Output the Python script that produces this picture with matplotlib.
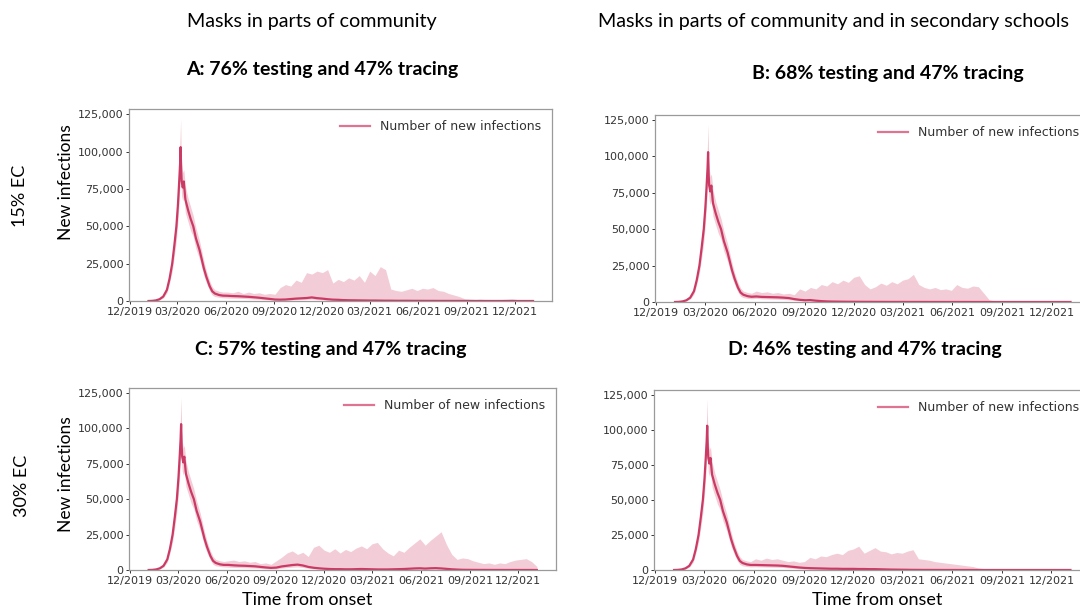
import numpy as np
import matplotlib
matplotlib.use("Agg")
import matplotlib.pyplot as plt
import matplotlib.dates as mdates
from matplotlib.lines import Line2D
from matplotlib.ticker import FuncFormatter

# ---------------- data ----------------
start_date = np.datetime64("2020-01-06")

# shared epidemic onset phase (identical in all scenarios), days from start
early_days = [0, 7, 14, 21, 28, 35, 40, 45, 49, 53, 56, 58, 60, 61, 62, 63, 65, 67,
              70, 75, 80, 85, 90, 97, 105, 110, 116, 121, 126, 134, 141]
early_mean = [0, 100, 400, 1200, 3000, 7500, 15000, 25000, 37000, 50000, 65000, 78000,
              92000, 103000, 88000, 80000, 76000, 80000, 68000, 61000, 55000, 50000,
              42000, 34000, 22000, 16000, 10000, 6500, 5000, 4000, 3600]
early_upper = [0, 200, 600, 1800, 4000, 9500, 18000, 30000, 44000, 60000, 76000, 92000,
               110000, 122000, 100000, 92000, 86000, 88000, 77000, 69000, 63000, 57000,
               49000, 40000, 27000, 20000, 13500, 9500, 7500, 6500, 6000]
early_lower = [0, 50, 250, 800, 2000, 5500, 12000, 20000, 30000, 41000, 54000, 65000,
               80000, 90000, 76000, 70000, 67000, 70000, 59000, 53000, 47000, 43000,
               35000, 28000, 17000, 12000, 7000, 4000, 3000, 2500, 2200]

# later phase, every 10 days from day 150 to day 730
tail_days = list(range(150, 731, 10))

A_mean = [3500, 3300, 3200, 3000, 2800, 2500, 2200, 1800, 1400, 1000,
          900, 1000, 1300, 1600, 1800, 2000, 2400, 1900, 1600, 1200,
          900, 800, 600, 500, 450, 400, 350, 300, 300, 250,
          200, 200, 150, 150, 150, 120, 100, 100, 80, 80,
          60, 60, 50, 40, 40, 30, 30, 20, 20, 20,
          10, 10, 10, 10, 0, 0, 0, 0, 0]
A_lower = [2000, 1900, 1800, 1700, 1500, 1300, 1100, 900, 700, 500,
           400, 500, 600, 800, 900, 1000, 1200, 900, 700, 500,
           400, 300, 250, 200, 150, 120, 100, 80, 60, 50,
           40, 30, 20, 20, 20, 10, 10, 0, 0, 0,
           0, 0, 0, 0, 0, 0, 0, 0, 0, 0,
           0, 0, 0, 0, 0, 0, 0, 0, 0]
A_upper = [6000, 5500, 6500, 5000, 6000, 5000, 5500, 4500, 5000, 4500,
           9000, 11000, 10000, 14000, 12500, 19000, 18000, 20000, 19000, 21000,
           12000, 14500, 13000, 15500, 14000, 17000, 12500, 20000, 17000, 23000,
           21000, 8000, 7000, 6500, 7500, 8500, 7000, 8500, 8000, 9000,
           7000, 6500, 5000, 4000, 3000, 1500, 1200, 1000, 1200, 900,
           1000, 800, 1000, 1200, 1500, 1000, 800, 500, 200]

B_mean = [3800, 3500, 3400, 3300, 3200, 3000, 2700, 2000, 1500, 1200,
          1300, 900, 600, 400, 300, 250, 200, 150, 150, 120,
          100, 100, 80, 80, 60, 60, 50, 50, 40, 40,
          30, 30, 20, 20, 20, 10, 10, 10, 10, 10,
          0, 0, 0, 0, 0, 0, 0, 0, 0, 0,
          0, 0, 0, 0, 0, 0, 0, 0, 0]
B_lower = [2500, 2200, 2100, 2000, 1900, 1700, 1500, 1100, 800, 600,
           600, 400, 300, 200, 150, 100, 100, 80, 60, 50,
           40, 30, 20, 20, 10, 10, 0, 0, 0, 0,
           0, 0, 0, 0, 0, 0, 0, 0, 0, 0,
           0, 0, 0, 0, 0, 0, 0, 0, 0, 0,
           0, 0, 0, 0, 0, 0, 0, 0, 0]
B_upper = [7500, 6500, 7000, 6000, 6500, 5500, 6000, 5000, 9000, 7500,
           10000, 9000, 12000, 11000, 14000, 12500, 15000, 13500, 17000, 18000,
           12000, 9000, 10500, 13000, 11500, 14000, 12500, 15000, 16000, 19000,
           12000, 10000, 9000, 10000, 8500, 9000, 8000, 12000, 10000, 9500,
           11000, 10500, 6000, 1500, 800, 600, 500, 400, 400, 300,
           300, 300, 200, 200, 200, 200, 100, 100, 50]

C_mean = [3600, 3300, 3100, 3000, 2800, 2600, 2200, 1800, 1500, 1700,
          2500, 3000, 3500, 3800, 3200, 2200, 1600, 1200, 900, 700,
          600, 600, 500, 500, 600, 700, 600, 500, 400, 400,
          400, 500, 600, 700, 900, 1100, 1200, 1000, 1200, 1300,
          1100, 800, 500, 300, 150, 100, 80, 60, 50, 40,
          30, 30, 20, 20, 20, 10, 10, 10, 0]
C_lower = [2000, 1800, 1700, 1600, 1500, 1400, 1100, 900, 700, 800,
           1300, 1700, 2000, 2200, 1800, 1200, 800, 600, 400, 300,
           250, 250, 200, 200, 250, 300, 250, 200, 150, 150,
           150, 200, 250, 300, 400, 500, 600, 500, 600, 600,
           500, 300, 200, 100, 50, 30, 20, 10, 10, 0,
           0, 0, 0, 0, 0, 0, 0, 0, 0]
C_upper = [6500, 7000, 6000, 6500, 5500, 6000, 4500, 5000, 4000, 6500,
           9000, 12000, 13500, 11000, 12500, 9500, 16000, 17500, 14000, 12500,
           15000, 12000, 14500, 13000, 15500, 17000, 15000, 18500, 19500, 15000,
           12000, 10000, 14000, 12500, 16000, 19000, 22000, 17500, 21000, 24000,
           27000, 18000, 11000, 7500, 8500, 8000, 6500, 5500, 4500, 5000,
           4000, 5000, 4500, 6000, 7000, 7500, 8000, 6000, 2500]

D_mean = [3600, 3500, 3400, 3300, 3200, 3000, 2600, 2200, 1800, 1500,
          1300, 1200, 1100, 1000, 900, 900, 800, 800, 800, 700,
          700, 600, 600, 500, 400, 300, 250, 200, 150, 100,
          80, 60, 50, 40, 30, 20, 20, 10, 10, 10,
          0, 0, 0, 0, 0, 0, 0, 0, 0, 0,
          0, 0, 0, 0, 0, 0, 0, 0, 0]
D_lower = [2300, 2200, 2100, 2000, 1900, 1800, 1500, 1200, 900, 700,
           600, 500, 450, 400, 350, 350, 300, 300, 300, 250,
           250, 200, 200, 150, 100, 80, 60, 50, 40, 30,
           20, 10, 10, 0, 0, 0, 0, 0, 0, 0,
           0, 0, 0, 0, 0, 0, 0, 0, 0, 0,
           0, 0, 0, 0, 0, 0, 0, 0, 0]
D_upper = [8000, 7000, 8500, 7500, 8000, 7000, 6000, 6500, 5500, 6000,
           9000, 8000, 10000, 9500, 11000, 12000, 11000, 14000, 15000, 17000,
           12000, 14000, 16000, 13500, 13000, 11500, 12500, 12000, 13500, 14500,
           8000, 7500, 7000, 6000, 5500, 5000, 4500, 4000, 3500, 3000,
           2500, 1500, 1000, 500, 400, 300, 300, 200, 200, 200,
           100, 100, 100, 100, 50, 50, 50, 0, 0]

panel_titles = ["A: 76% testing and 47% tracing", "B: 68% testing and 47% tracing",
                "C: 57% testing and 47% tracing", "D: 46% testing and 47% tracing"]
column_titles = ["Masks in parts of community",
                 "Masks in parts of community and in secondary schools"]
row_labels = ["15% EC", "30% EC"]
legend_label = "Number of new infections"
y_ticks = [0, 25000, 50000, 75000, 100000, 125000]

# ---------------- drawing ----------------
W, H = 1080, 612
fig = plt.figure(figsize=(W / 100, H / 100), dpi=100)
fig.patch.set_facecolor("white")

LINE = "#c8325e"
BAND = "#e9a3b6"
LEG = "#de7392"
TXT_FONT = ["Lato", "DejaVu Sans"]


def px_axes(left, top, right, bottom):
    return fig.add_axes([left / W, 1 - bottom / H, (right - left) / W, (bottom - top) / H])


# (mean, lower, upper, axes box px, ylabel px centre, xlabel px centre)
panels = [
    (A_mean, A_lower, A_upper, (129, 109, 552, 301), (66, 182), None),
    (B_mean, B_lower, B_upper, (655, 115, 1090, 302), None, None),
    (C_mean, C_lower, C_upper, (129, 388, 556, 570), (66, 474), (307, 600)),
    (D_mean, D_lower, D_upper, (654, 390, 1090, 570), None, (877, 600)),
]

all_days = np.array(early_days + tail_days)
dates = start_date + all_days.astype("timedelta64[D]")

for k, (m, lo, up, box, ylab, xlab) in enumerate(panels):
    ax = px_axes(*box)
    l, t, r, b = box
    mean = np.array(early_mean + m)
    lower = np.array(early_lower + lo)
    upper = np.array(early_upper + up)
    ax.fill_between(dates, lower, upper, color=BAND, alpha=0.55, linewidth=0)
    ax.plot(dates, mean, color=LINE, linewidth=1.6, alpha=0.95)
    ax.set_xlim(np.datetime64("2019-11-30"), np.datetime64("2022-02-10"))
    ax.set_ylim(0, 128500)
    ax.set_yticks(y_ticks)
    ax.yaxis.set_major_formatter(FuncFormatter(lambda v, p: f"{v:,.0f}"))
    ax.xaxis.set_major_locator(mdates.MonthLocator(bymonth=[3, 6, 9, 12]))
    ax.xaxis.set_major_formatter(mdates.DateFormatter("%m/%Y"))
    ax.tick_params(axis="both", labelsize=8, colors="#333333", length=2.5, width=0.7,
                   pad=1.5)
    for s in ax.spines.values():
        s.set_color("#9a9a9a")
        s.set_linewidth(0.9)
    handle = Line2D([0], [0], color=LEG, linewidth=1.6)
    ax.legend([handle], [legend_label], loc="upper right", frameon=False, fontsize=9,
              handlelength=2.4, borderaxespad=0.5, labelcolor="#333333")
    if ylab is not None:
        ax.set_ylabel("New infections", fontsize=12.5, family=TXT_FONT)
        ax.yaxis.set_label_coords((ylab[0] - l) / (r - l), (b - ylab[1]) / (b - t))
        ax.yaxis.label.set_va("center")
    if xlab is not None:
        ax.set_xlabel("Time from onset", fontsize=13, family=TXT_FONT)
        ax.xaxis.set_label_coords((xlab[0] - l) / (r - l), (b - xlab[1]) / (b - t))
        ax.xaxis.label.set_va("center")

# titles
fig.text(312 / W, 1 - 22 / H, column_titles[0], ha="center", va="center",
         fontsize=14.2, family=TXT_FONT)
fig.text(833 / W, 1 - 22 / H, column_titles[1], ha="center", va="center",
         fontsize=14.2, family=TXT_FONT)
title_pos = [(322, 70), (888, 73), (331, 350), (865, 350)]
for t, (x, y) in zip(panel_titles, title_pos):
    fig.text(x / W, 1 - y / H, t, ha="center", va="center", fontsize=14,
             fontweight="bold", family=TXT_FONT)

fig.text(20 / W, 1 - 196 / H, row_labels[0], rotation=90, ha="center", va="center",
         fontsize=13, family=TXT_FONT)
fig.text(22 / W, 1 - 486 / H, row_labels[1], rotation=90, ha="center", va="center",
         fontsize=13, family=TXT_FONT)

fig.savefig("out.png", dpi=100, facecolor="white")
